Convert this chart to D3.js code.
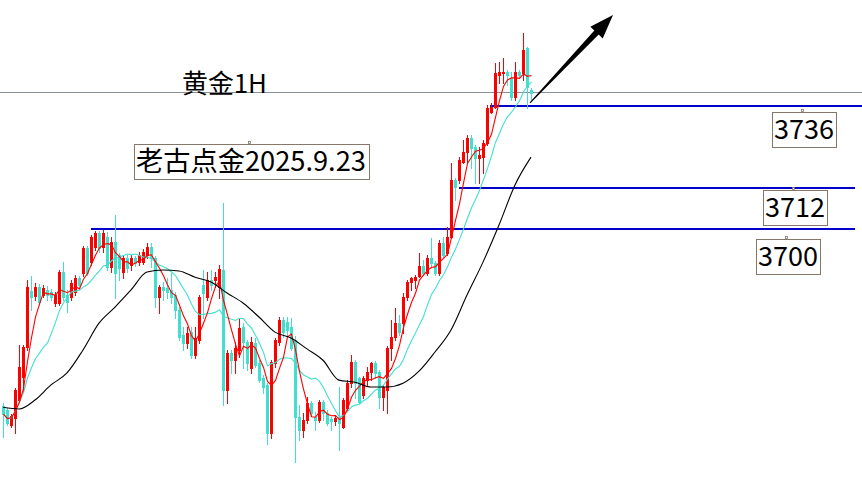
<!DOCTYPE html>
<html><head><meta charset="utf-8">
<script src="https://cdn.jsdelivr.net/npm/d3@7"></script>
<style>html,body{margin:0;padding:0;background:#fff;overflow:hidden}svg{display:block}</style>
</head><body><svg id="c" width="862" height="491"></svg>
<script>
// ---- data (gold 1H candles) ----
const open = [3648.2,3647.1,3642.7,3644.7,3650.0,3656.7,3665.4,3681.8,3680.3,3682.9,
3680.6,3682.1,3681.5,3678.3,3678.3,3687.3,3680.6,3680.0,3681.5,3685.6,
3687.0,3694.3,3690.2,3694.6,3698.7,3694.6,3697.5,3688.8,3696.0,3692.3,
3687.3,3691.4,3689.3,3691.4,3690.2,3690.2,3692.3,3694.6,3691.4,3680.0,
3682.9,3682.6,3682.1,3680.6,3676.2,3668.9,3666.6,3669.8,3663.1,3667.5,
3683.5,3680.0,3685.0,3685.0,3682.9,3687.9,3652.9,3663.7,3661.6,3664.6,
3671.3,3666.9,3659.3,3666.6,3660.8,3656.4,3654.4,3640.4,3660.8,3666.9,
3673.3,3672.7,3671.3,3667.5,3645.0,3641.2,3644.2,3649.1,3645.0,3644.2,
3649.4,3646.2,3644.4,3643.9,3645.0,3642.1,3647.7,3654.9,3661.1,3656.4,
3651.4,3655.8,3658.1,3660.8,3658.1,3650.9,3652.9,3665.1,3668.4,3672.4,
3672.4,3680.0,3684.4,3685.0,3686.1,3689.1,3687.0,3691.4,3689.9,3687.0,
3695.8,3692.8,3697.5,3714.1,3714.1,3719.4,3722.3,3726.4,3723.7,3720.5,
3720.8,3724.9,3734.0,3735.4,3744.7,3745.3,3745.6,3743.9,3738.3,3745.6,
3745.3,3752.6,3740.4];
const high = [3649.1,3647.7,3645.9,3653.5,3666.0,3666.0,3685.0,3686.1,3684.1,3683.8,
3683.5,3683.2,3682.3,3681.5,3687.9,3690.2,3682.1,3685.0,3686.4,3686.1,
3694.9,3694.9,3698.1,3699.3,3699.3,3699.5,3699.0,3697.5,3703.9,3692.8,
3692.0,3692.3,3692.3,3692.0,3693.1,3694.0,3695.8,3695.8,3692.0,3683.5,
3684.4,3685.6,3687.0,3681.5,3677.1,3671.3,3671.3,3671.3,3671.3,3680.6,
3687.9,3687.3,3687.9,3687.3,3689.3,3707.4,3664.6,3664.6,3666.9,3673.9,
3672.4,3667.5,3668.4,3668.1,3661.6,3657.3,3654.9,3661.6,3668.1,3674.2,
3674.2,3674.2,3673.9,3668.6,3648.5,3646.2,3650.9,3649.7,3646.5,3650.0,
3650.0,3647.1,3645.0,3645.6,3653.8,3650.6,3655.8,3663.1,3661.6,3656.7,
3657.0,3659.6,3661.1,3661.4,3658.7,3654.4,3665.7,3673.3,3676.8,3674.8,
3681.2,3685.0,3685.8,3686.4,3692.8,3690.8,3692.3,3697.2,3690.5,3696.6,
3697.5,3700.4,3719.1,3714.7,3720.8,3725.8,3727.2,3727.2,3724.3,3723.7,
3725.8,3736.0,3736.6,3748.2,3748.5,3749.7,3746.2,3745.6,3748.5,3746.2,
3757.0,3752.9,3740.9];
const low = [3639.2,3642.7,3642.1,3640.4,3649.4,3652.3,3664.6,3676.2,3679.1,3677.7,
3680.0,3679.1,3679.1,3677.4,3677.7,3679.1,3675.6,3679.1,3680.6,3682.9,
3686.1,3686.4,3689.3,3693.7,3693.1,3693.1,3687.9,3687.3,3679.7,3685.0,
3685.6,3687.3,3687.9,3689.1,3689.3,3689.6,3691.4,3688.8,3677.1,3675.3,
3679.1,3679.7,3678.3,3673.9,3667.5,3664.6,3665.1,3662.2,3662.2,3666.6,
3673.9,3679.1,3682.1,3682.9,3679.7,3648.5,3649.1,3657.9,3657.9,3662.5,
3659.3,3658.7,3657.9,3659.6,3655.2,3652.0,3637.2,3638.9,3659.6,3666.0,
3668.4,3668.9,3664.6,3631.9,3638.3,3639.2,3643.3,3645.6,3641.2,3643.6,
3644.2,3642.7,3641.2,3642.7,3635.4,3641.8,3647.1,3653.8,3650.6,3649.1,
3650.6,3654.4,3655.8,3656.4,3647.7,3647.1,3646.2,3661.6,3667.5,3668.9,
3669.5,3679.1,3682.1,3682.6,3685.8,3686.4,3686.4,3688.8,3686.4,3686.4,
3691.7,3692.3,3697.2,3708.3,3713.2,3719.1,3719.1,3717.6,3713.2,3713.2,
3716.2,3724.3,3733.7,3735.1,3742.4,3742.4,3741.8,3737.4,3737.4,3743.9,
3743.3,3735.1,3737.4];
const close = [3645.9,3643.3,3645.3,3652.9,3659.6,3665.4,3682.9,3680.0,3682.9,3678.6,
3682.6,3680.6,3680.0,3680.6,3687.3,3680.0,3678.6,3684.1,3685.6,3683.5,
3694.3,3687.0,3697.5,3698.7,3694.3,3698.7,3688.8,3696.0,3687.0,3688.5,
3691.4,3688.5,3691.4,3689.9,3692.3,3693.1,3694.6,3691.4,3680.0,3682.9,
3682.1,3681.5,3680.0,3676.2,3668.4,3666.6,3669.5,3663.1,3668.1,3680.0,
3681.2,3685.0,3683.5,3685.8,3688.2,3652.9,3663.7,3661.6,3665.1,3671.0,
3666.9,3660.8,3666.9,3660.2,3655.8,3653.8,3640.4,3661.1,3667.5,3673.3,
3669.8,3670.4,3665.1,3645.0,3641.2,3644.2,3649.1,3646.2,3644.2,3649.4,
3646.2,3643.3,3643.9,3644.7,3643.3,3650.0,3654.9,3661.1,3654.9,3649.4,
3656.4,3658.1,3660.8,3657.9,3650.9,3653.8,3665.1,3668.4,3672.4,3669.8,
3680.0,3684.4,3685.6,3685.8,3689.1,3687.0,3691.4,3689.9,3687.0,3695.8,
3692.3,3697.5,3714.1,3712.1,3720.0,3722.3,3726.4,3723.5,3720.5,3721.4,
3724.9,3735.1,3735.4,3745.3,3745.6,3745.6,3744.7,3738.3,3745.6,3744.7,
3752.0,3741.2,3739.5];
// slow moving average: [candle index, value]
const slowMA = [[0,3647.9],[4,3647.4],[8,3650.0],[12,3654.4],[16,3657.9],[20,3664.6],
[24,3672.4],[28,3677.1],[32,3682.1],[36,3687.3],[40,3687.9],[44,3687.6],[48,3685.8],
[52,3684.4],[56,3681.2],[60,3678.3],[64,3674.2],[68,3669.8],[72,3668.1],[76,3664.9],
[80,3661.6],[84,3655.8],[88,3655.2],[92,3653.8],[96,3653.8],[100,3654.9],[104,3658.4],
[108,3664.0],[112,3670.4],[116,3680.6],[120,3690.2],[124,3701.0],[128,3712.7],[132,3720.8]];
const fastPeriod = 5, midPeriod = 12;
const levels = [3736, 3712, 3700];
const levelLabels = ["3736", "3712", "3700"];
const levelFrom = [121.75, 114, 22];   // candle index where each level line starts
const currentPrice = 3739.5;
const title = "黄金1H";
const note = "老古点金2025.9.23";
const arrowFrom = [131.75, 3736.6], arrowTo = [152.5, 3762.2];

// ---- drawing ----
const W = 862, H = 491;
const svg = d3.select("#c");
const n = close.length;
const x = d3.scaleLinear().domain([0, n - 1]).range([3, 531]);
const y = d3.scaleLinear().domain([3736, 3700]).range([105, 228.5]);
const UP = "#ff0000", DOWN = "#40e0d0", BLUE = "#0000c8";
const FONT = "'Noto Sans CJK SC','Microsoft YaHei',sans-serif";

// current price line
svg.append("line").attr("x1", 0).attr("x2", W)
  .attr("y1", Math.floor(y(currentPrice)) + 0.5).attr("y2", Math.floor(y(currentPrice)) + 0.5)
  .attr("stroke", "#8a909a").attr("stroke-width", 1);

// level lines
levels.forEach((lv, k) => {
  const yy = Math.floor(y(lv)) + 1;
  svg.append("line").attr("x1", x(levelFrom[k])).attr("x2", k === 0 ? W : 855)
    .attr("y1", yy).attr("y2", yy).attr("stroke", BLUE).attr("stroke-width", 2);
});

// candles
const cg = svg.append("g").attr("shape-rendering", "crispEdges");
const idx = d3.range(n);
idx.forEach(i => {
  const col = close[i] >= open[i] ? UP : DOWN;
  const cx = Math.round(x(i));
  cg.append("line").attr("x1", cx + 0.5).attr("x2", cx + 0.5)
    .attr("y1", Math.round(y(high[i]))).attr("y2", Math.round(y(low[i])) + 1)
    .attr("stroke", col).attr("stroke-width", 1);
  const yt = Math.round(y(Math.max(open[i], close[i])));
  const yb = Math.round(y(Math.min(open[i], close[i])));
  cg.append("rect").attr("x", cx - 1).attr("width", 3)
    .attr("y", yt).attr("height", Math.max(1, yb - yt + 1)).attr("fill", col);
});

// moving averages
function sma(p) { return idx.map(i => d3.mean(close.slice(Math.max(0, i - p + 1), i + 1))); }
const fast = sma(fastPeriod), mid = sma(midPeriod);
const line = d3.line().x((d, i) => x(i) + 0.5).y(d => y(d));
svg.append("path").attr("d", line(mid)).attr("fill", "none").attr("stroke", DOWN).attr("stroke-width", 1.1);
svg.append("path").attr("d", line(fast)).attr("fill", "none").attr("stroke", UP).attr("stroke-width", 1.1);
svg.append("path").attr("d", d3.line().x(d => x(d[0])).y(d => y(d[1])).curve(d3.curveMonotoneX)(slowMA))
  .attr("fill", "none").attr("stroke", "#000").attr("stroke-width", 1.1);

// arrow
(function () {
  const T = [x(arrowFrom[0]), y(arrowFrom[1])], P = [x(arrowTo[0]), y(arrowTo[1])];
  const dx = P[0] - T[0], dy = P[1] - T[1], L = Math.hypot(dx, dy);
  const u = [dx / L, dy / L], nn = [-u[1], u[0]];
  const B = [P[0] - u[0] * 24, P[1] - u[1] * 24];
  const pt = (b, s) => [b[0] + nn[0] * s, b[1] + nn[1] * s];
  const pts = [pt(T, 0.5), pt(B, 3), pt(B, 8.5), P, pt(B, -8.5), pt(B, -3), pt(T, -0.5)];
  svg.append("path").attr("d", "M" + pts.map(p => p.join(",")).join("L") + "Z").attr("fill", "#000");
})();

// texts
function fit(t, w) {
  const len = t.node().getComputedTextLength();
  t.attr("font-size", parseFloat(t.attr("font-size")) * w / len);
}
const tt = svg.append("text").attr("x", 182).attr("y", 93).attr("font-family", FONT)
  .attr("font-size", 26).attr("fill", "#000").text(title);
fit(tt, 85);

function boxLabel(bx, by, bw, bh, txt, tw, anchorX) {
  svg.append("rect").attr("x", bx + 0.5).attr("y", by + 0.5).attr("width", bw).attr("height", bh)
    .attr("fill", "#fff").attr("stroke", "#857868").attr("stroke-width", 1);
  const t = svg.append("text").attr("x", bx + 2).attr("y", by + 27).attr("font-family", FONT)
    .attr("font-size", 27).attr("fill", "#000").text(txt);
  fit(t, tw);
  svg.append("rect").attr("x", anchorX - 1 + 0.5).attr("y", by - 3 + 0.5).attr("width", 2).attr("height", 2)
    .attr("fill", "#fff").attr("stroke", "#857868").attr("stroke-width", 0.8);
}
boxLabel(134, 144, 235, 35, note, 230, 249);
const boxes = [[772, 112], [763, 190], [756, 239]];
levels.forEach((lv, k) => boxLabel(boxes[k][0], boxes[k][1], 64, 35, levelLabels[k], 60, boxes[k][0] + 30));
</script>
</body></html>
